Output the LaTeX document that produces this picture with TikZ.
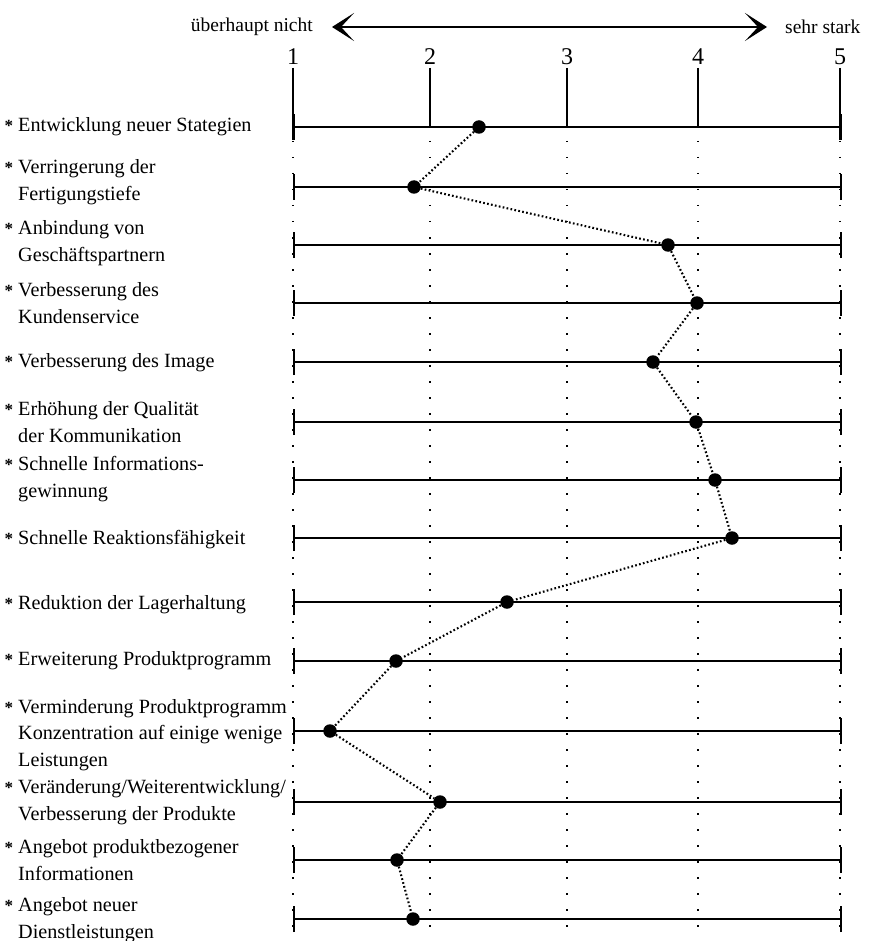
\documentclass[tikz,border=0pt]{standalone}
\usepackage{fontspec}
\setmainfont{Liberation Serif}
\usetikzlibrary{arrows.meta}

\begin{document}
\begin{tikzpicture}[x=1pt,y=-1pt,
  scaleline/.style={line width=2.6pt},
  endtick/.style={line width=2.6pt},
  axisline/.style={line width=2.3pt},
  gridline/.style={line width=1.5pt, dash pattern=on 1.5pt off 14.5pt},
  trend/.style={line width=2.1pt, dash pattern=on 1.7pt off 2.3pt},
  dot/.style={circle, fill=black, inner sep=0pt, minimum size=13.5pt},
  lbl/.style={anchor=west, align=left, inner sep=0pt,
    font=\fontsize{20.2}{26.5}\selectfont},
  headtext/.style={inner sep=0pt, font=\fontsize{19.5}{22}\selectfont},
  numtext/.style={inner sep=0pt, font=\fontsize{24}{26}\selectfont},
  bigarrow/.style={line width=2.2pt,
    {Stealth[length=22pt,width=28pt,inset=13pt]}-{Stealth[length=22pt,width=28pt,inset=13pt]}},
]
\useasboundingbox (0,0) rectangle (878,941);

% heading: direction of the rating scale
\coordinate (aL) at (332,27);
\coordinate (aR) at (767,27);
\draw[bigarrow] (aL) -- (aR);
\node[headtext, anchor=east] (low)  at (313,27) {überhaupt nicht};
\node[headtext, anchor=west] (high) at (785,27) {sehr stark};

% scale values 1..5 with their vertical guides
\foreach \v/\x in {1/293, 2/430, 3/567, 4/698, 5/840} {
  \node[numtext] (n\v) at (\x,57) {\v};
  \coordinate (top\v) at (\x,68);
  \coordinate (bot\v) at (\x,935);
  \coordinate (grid\v) at (\x,141);
}
\foreach \v/\x in {2/430, 3/567, 4/698} \draw[axisline] (top\v) -- (\x,127);
\draw[axisline] (top1) -- (293,140);
\draw[axisline] (top5) -- (840,140);
\foreach \v in {1,...,5} \draw[gridline] (grid\v) -- (bot\v);

% one rating line per item
\foreach \i/\y in {1/127, 2/187, 3/245, 4/303, 5/362, 6/422, 7/480,
                   8/538, 9/602, 10/661, 11/731, 12/802, 13/860, 14/919} {
  \coordinate (L\i) at (294,\y);
  \coordinate (R\i) at (841,\y);
  \draw[scaleline] (L\i) -- (R\i);
  \draw[endtick] ([yshift=-13pt]L\i) -- ([yshift=13pt]L\i);
  \draw[endtick] ([yshift=-13pt]R\i) -- ([yshift=13pt]R\i);
}

% item labels
\newcommand{\bul}{\leavevmode\llap{\raisebox{0pt}{\fontsize{17}{17}\selectfont\bfseries *}\hspace{5pt}}}
\node[lbl] (t1)  at (18,127) {\bul Entwicklung neuer Stategien};
\node[lbl] (t2)  at (18,182) {\bul Verringerung der\\Fertigungstiefe};
\node[lbl] (t3)  at (18,243) {\bul Anbindung von\\Geschäftspartnern};
\node[lbl] (t4)  at (18,303) {\bul Verbesserung des\\Kundenservice};
\node[lbl] (t5)  at (18,363) {\bul Verbesserung des Image};
\node[lbl] (t6)  at (18,422) {\bul Erhöhung der Qualität\\der Kommunikation};
\node[lbl] (t7)  at (18,479) {\bul Schnelle Informations-\\gewinnung};
\node[lbl] (t8)  at (18,540) {\bul Schnelle Reaktionsfähigkeit};
\node[lbl] (t9)  at (18,605) {\bul Reduktion der Lagerhaltung};
\node[lbl] (t10) at (18,661) {\bul Erweiterung Produktprogramm};
\node[lbl] (t11) at (18,735) {\bul Verminderung Produktprogramm\\Konzentration auf einige wenige\\Leistungen};
\node[lbl] (t12) at (18,802) {\bul Veränderung/Weiterentwicklung/\\Verbesserung der Produkte};
\node[lbl] (t13) at (18,860) {\bul Angebot produktbezogener\\Informationen};
\node[lbl] (t14) at (18,920) {\bul Angebot neuer\\Dienstleistungen};

% mean ratings
\foreach \i/\x/\y in {1/479/127, 2/414/187, 3/668/245, 4/697/303, 5/653/362,
                      6/696/422, 7/715/480, 8/732/538, 9/507/602, 10/396/661,
                      11/330/731, 12/440/802, 13/397/860, 14/413/919}
  \node[dot] (p\i) at (\x,\y) {};

% profile line through the ratings
\draw[trend] (p1) -- (p2) -- (p3) -- (p4) -- (p5) -- (p6) -- (p7) -- (p8)
  -- (p9) -- (p10) -- (p11) -- (p12) -- (p13) -- (p14);
\end{tikzpicture}
\end{document}
